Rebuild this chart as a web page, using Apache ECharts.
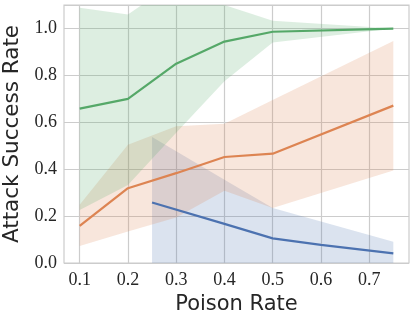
<!DOCTYPE html>
<html>
<head>
<meta charset="utf-8">
<script src="https://cdn.jsdelivr.net/npm/echarts@6/dist/echarts.min.js"></script>
<style>
  html, body { margin: 0; padding: 0; background: #fff; }
  #chart { width: 415px; height: 321px; }
</style>
</head>
<body>
<div id="chart"></div>
<script>
  // poison rates per series
  const greenX = [0.1, 0.2, 0.3, 0.4, 0.5, 0.75];
  const orangeX = [0.1, 0.2, 0.3, 0.4, 0.5, 0.75];
  const blueX = [0.25, 0.4, 0.5, 0.6, 0.75];

  // mean attack success rate
  const greenMean = [0.658, 0.70, 0.85, 0.944, 0.986, 0.999];
  const orangeMean = [0.158, 0.319, 0.383, 0.452, 0.466, 0.671];
  const blueMean = [0.258, 0.167, 0.105, 0.077, 0.041];

  // band bounds
  const greenLow = [0.226, 0.333, 0.555, 0.775, 0.94, 1.0];
  const greenHigh = [1.088, 1.06, 1.2, 1.10, 1.033, 1.0];
  const orangeLow = [0.073, 0.134, 0.194, 0.308, 0.234, 0.394];
  const orangeHigh = [0.248, 0.504, 0.583, 0.594, 0.695, 0.946];
  const blueLow = [0, 0, 0, 0, 0];
  const blueHigh = [0.537, 0.355, 0.234, 0.177, 0.091];

  const xTicks = [0.1, 0.2, 0.3, 0.4, 0.5, 0.6, 0.7];

  const BLUE = '#4c72b0';
  const ORANGE = '#dd8452';
  const GREEN = '#55a868';

  const pairs = (xs, ys) => xs.map((x, i) => [x, ys[i]]);

  /** 置信带：用坐标系换算后的多边形绘制 */
  const band = (xs, low, high, color) => ({
    type: 'custom',
    data: [[xs[0], low[0]]],
    clip: true,
    silent: true,
    z: 1,
    renderItem: (params, api) => {
      const upper = xs.map((x, i) => api.coord([x, high[i]]));
      const lower = xs.map((x, i) => api.coord([x, low[i]])).reverse();
      return {
        type: 'polygon',
        shape: { points: upper.concat(lower) },
        style: { fill: color, opacity: 0.2 },
      };
    },
  });

  const meanLine = (xs, ys, color) => ({
    type: 'line',
    data: pairs(xs, ys),
    symbol: 'none',
    lineStyle: { width: 2.2, color: color },
    z: 3,
  });

  const chart = echarts.init(document.getElementById('chart'));

  chart.setOption({
    animation: false,
    backgroundColor: '#fff',
    grid: {
      left: 64,
      right: 6,
      top: 5,
      bottom: 58,
      outerBoundsMode: 'none',
      containLabel: false,
      show: true,
      borderColor: '#cccccc',
      borderWidth: 1.2,
    },
    xAxis: {
      type: 'value',
      min: 0.0675,
      max: 0.7825,
      name: 'Poison Rate',
      nameLocation: 'middle',
      nameGap: 19,
      nameTextStyle: { fontFamily: 'DejaVu Sans', fontSize: 21, color: '#262626' },
      axisLine: { show: false },
      axisTick: { show: false, customValues: xTicks },
      axisLabel: {
        customValues: xTicks,
        formatter: v => v.toFixed(1),
        fontFamily: 'Liberation Serif',
        fontSize: 18,
        color: '#262626',
        margin: 8,
      },
      splitLine: { show: true, lineStyle: { color: '#cccccc', width: 1.2 } },
    },
    yAxis: {
      type: 'value',
      min: 0,
      max: 1.1,
      interval: 0.2,
      name: 'Attack Success Rate',
      nameLocation: 'middle',
      nameGap: 31,
      nameTextStyle: { fontFamily: 'DejaVu Sans', fontSize: 21.5, color: '#262626' },
      axisLine: { show: false },
      axisTick: { show: false },
      axisLabel: {
        formatter: v => (Math.abs(v - 1.1) < 1e-6 ? '' : v.toFixed(1)),
        fontFamily: 'Liberation Serif',
        fontSize: 18,
        color: '#262626',
        margin: 7,
      },
      splitLine: { show: true, lineStyle: { color: '#cccccc', width: 1.2 } },
    },
    series: [
      band(blueX, blueLow, blueHigh, BLUE),
      meanLine(blueX, blueMean, BLUE),
      band(orangeX, orangeLow, orangeHigh, ORANGE),
      meanLine(orangeX, orangeMean, ORANGE),
      band(greenX, greenLow, greenHigh, GREEN),
      meanLine(greenX, greenMean, GREEN),
    ],
  });
</script>
</body>
</html>
